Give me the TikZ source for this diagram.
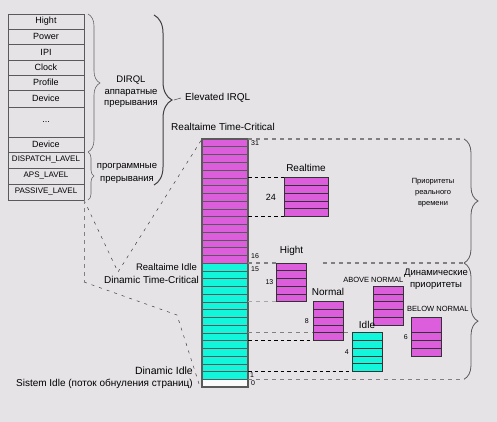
\documentclass[tikz,border=0pt]{standalone}
\usepackage{fontspec}
\setmainfont{Liberation Sans}
\usetikzlibrary{positioning, decorations.pathreplacing}
\definecolor{bgpanel}{RGB}{229,227,230}
\definecolor{rtmagenta}{RGB}{221,94,221}
\definecolor{dyncyan}{RGB}{18,246,220}
\definecolor{framegray}{RGB}{90,90,90}
\tikzset{
    % IRQL table cells
    irql cell/.style={draw=framegray, fill=bgpanel, minimum width=76pt, inner sep=0pt, outer sep=0pt, font=\fontsize{9}{10}\selectfont},
    low cell/.style={irql cell, font=\fontsize{8}{9}\selectfont},
    % one priority level of the column
    prio level/.style={draw=black!65, line width=0.5pt, minimum width=46pt, minimum height=7.75pt, inner sep=0pt, outer sep=0pt},
    % priority class box, five levels with row lines
    class box/.style={draw=black!80, line width=0.8pt, minimum width=30pt, minimum height=38.75pt, inner sep=0pt, outer sep=0pt,
        path picture={\foreach \r in {#1} \draw[black!80, line width=0.6pt] ([yshift=-\r*7.75pt]path picture bounding box.north west) -- ([yshift=-\r*7.75pt]path picture bounding box.north east);}},
    class box/.default={1,2,3,4},
    % texts
    lbl/.style={font=\fontsize{10}{12}\selectfont, inner sep=0pt},
    small lbl/.style={font=\fontsize{7.5}{9}\selectfont, inner sep=0pt},
    num/.style={font=\fontsize{7}{8}\selectfont, inner sep=0pt},
    % dashed lines
    zone/.style={black!50, line width=1.1pt, dash pattern=on 4pt off 4pt},
    link/.style={black, line width=0.7pt, dash pattern=on 3.5pt off 3pt},
    faint/.style={black!35, line width=0.8pt, dash pattern=on 4pt off 4pt},
    guide/.style={black!75, line width=0.5pt, dash pattern=on 3pt off 5pt},
    % braces
    curly/.style={decorate, decoration={brace, amplitude=#1}, framegray, line width=0.8pt}
}

\begin{document}
\begin{tikzpicture}[x=1pt, y=-1pt]
    \fill[bgpanel] (0,0) rectangle (497,422);
    \useasboundingbox (0,0) rectangle (497,422);

    % --- IRQL table ---
    \node[irql cell, minimum height=15pt] (hight) at (46,21.5) {Hight};
    \node[irql cell, minimum height=15pt, below=0pt of hight] (power) {Power};
    \node[irql cell, minimum height=16pt, below=0pt of power] (ipi) {IPI};
    \node[irql cell, minimum height=15pt, below=0pt of ipi] (clock) {Clock};
    \node[irql cell, minimum height=15pt, below=0pt of clock] (profile) {Profile};
    \node[irql cell, minimum height=17pt, below=0pt of profile] (device1) {Device};
    \node[irql cell, minimum height=30pt, below=0pt of device1] (dots) {...};
    \node[irql cell, minimum height=15pt, below=0pt of dots] (device2) {Device};
    \node[low cell, minimum height=16pt, below=0pt of device2] (dispatch) {DISPATCH\_LAVEL};
    \node[low cell, minimum height=16pt, below=0pt of dispatch] (aps) {APS\_LAVEL};
    \node[low cell, minimum height=16pt, below=0pt of aps] (passive) {PASSIVE\_LAVEL};

    % --- braces of the table ---
    \draw[curly=12, black!60, line width=0.6pt] ([xshift=4pt]hight.north east) -- ([xshift=4pt]device2.south east);
    \draw[curly=6, black!60, line width=0.6pt] ([xshift=4pt]dispatch.north east) -- ([xshift=4pt]passive.south east);
    \node[lbl, font=\fontsize{9.5}{11.5}\selectfont, align=center] (dirql) at (131,92) {DIRQL\\аппаратные\\прерывания};
    \node[lbl, font=\fontsize{9.5}{13}\selectfont, align=center] (soft) at (127,173.5) {программные\\прерывания};

    \coordinate (elev top) at (154,15);
    \coordinate (elev bot) at (154,185);
    \coordinate (elev tip) at (172,100);
    \draw[curly=18, black!75, line width=1pt] (elev top) -- (elev bot);
    \node[lbl, anchor=west] (elev) at (185,98) {Elevated IRQL};
    \draw[framegray, line width=0.6pt] ([xshift=2pt]elev tip) -- ([xshift=-4pt]elev.west);

    % --- priority column ---
    \foreach \k in {16,...,31}
        \node[prio level, fill=rtmagenta] (L\k) at (225,{387-7.75*(\k+0.5)}) {};
    \foreach \k in {1,...,15}
        \node[prio level, fill=dyncyan] (L\k) at (225,{387-7.75*(\k+0.5)}) {};
    \node[prio level, fill=white!85!bgpanel] (L0) at (225,383.125) {};
    \draw[framegray, line width=1.2pt] (L31.north west) rectangle (L0.south east);

    \node[num, anchor=west] at ([xshift=3pt]L31.east) {31};
    \node[num, anchor=west] at ([xshift=3pt, yshift=3pt]L16.east) {16};
    \node[num, anchor=west] at ([xshift=3pt, yshift=-2pt]L15.east) {15};
    \node[num, anchor=west] at ([xshift=2pt]L1.east) {1};
    \node[num, anchor=west] at ([xshift=3pt]L0.east) {0};

    \node[lbl] (rt tc) at (223,127) {Realtaime Time-Critical};
    \node[lbl, font=\fontsize{9.5}{11}\selectfont, anchor=east] (rt idle) at (197,267) {Realtaime Idle};
    \node[lbl, anchor=east] (dyn tc) at (199,280) {Dinamic Time-Critical};
    \node[lbl, font=\fontsize{10.5}{12}\selectfont, anchor=east] (dyn idle) at (193,371) {Dinamic Idle};
    \node[lbl, anchor=east] (sys idle) at (193,384) {Sistem Idle (поток обнуления страниц)};

    % --- guide lines from the table ---
    \coordinate (apex) at (118,272);
    \coordinate (bend a) at (84,282);
    \coordinate (bend b) at (177,315);
    \draw[guide] (passive.south east) -- (apex) -- (L31.north west);
    \draw[zone, line width=0.9pt] (passive.south east) -- (bend a);
    \draw[guide] (bend a) -- (bend b) -- ([xshift=-2pt]L0.south west);

    % --- zone borders and braces on the right ---
    \coordinate (rt top) at (464,0 |- L31.north);
    \coordinate (dyn top) at (464,0 |- L16.south);
    \coordinate (dyn bot) at (464,0 |- L1.south);
    \draw[zone] (L31.north east) -- (rt top);
    \draw[zone] (L6.north east) -- (352,0 |- L6.north);
    \draw[zone] (L1.south east) -- (dyn bot);

    % --- priority class boxes ---
    \node[class box, fill=rtmagenta, minimum width=44pt] (rtbox) at (306,0 |- L24) {};
    \node[class box, fill=rtmagenta] (hightbox) at (291.5,0 |- L13) {};
    \node[class box, fill=rtmagenta] (normalbox) at (328,0 |- L8) {};
    \node[class box, fill=dyncyan] (idlebox) at (367,0 |- L4) {};
    \node[class box, fill=rtmagenta] (abovebox) at (388.5,0 |- L10) {};
    \node[class box={2,3,4}, fill=rtmagenta] (belowbox) at (426,0 |- L6) {};

    \draw[link] (L26.north east) -- (rtbox.north west);
    \draw[link] (L22.south east) -- (rtbox.south west);
    \draw[zone] (L15.north east) -- (hightbox.north west);
    \draw[zone] ([xshift=16pt]hightbox.north east) -- (dyn top);
    \draw[faint] (L11.south east) -- (hightbox.south west);
    \draw[link] (L6.south east) -- (normalbox.south west);
    \draw[link] (L2.south east) -- (idlebox.south west);

    \draw[curly=14] (rt top) -- (dyn top);
    \draw[curly=14] (dyn top) -- (dyn bot);
    \node[lbl, font=\fontsize{7.5}{11}\selectfont, align=center] (rt prio) at (433,193) {Приоритеты\\реального\\времени};
    \node[lbl, font=\fontsize{9.5}{12}\selectfont, align=center] (dyn prio) at (436,279) {Динамические\\приоритеты};

    % --- labels of the boxes ---
    \node[lbl, above=6pt of rtbox] {Realtime};
    \node[lbl, above=7pt of hightbox] {Hight};
    \node[lbl, above=6pt of normalbox] {Normal};
    \node[lbl, above=4pt of idlebox] {Idle};
    \node[small lbl, anchor=south east] at ([yshift=3pt]abovebox.north east) {ABOVE NORMAL};
    \node[small lbl, anchor=south west] at ([xshift=-4pt, yshift=5pt]belowbox.north west) {BELOW NORMAL};

    \node[lbl, font=\fontsize{9}{10}\selectfont, left=8pt of rtbox] {24};
    \node[num, left=3pt of hightbox] {13};
    \node[num, left=4pt of normalbox] {8};
    \node[num, left=3pt of idlebox] {4};
    \node[num, left=3pt of belowbox] {6};
\end{tikzpicture}
\end{document}
